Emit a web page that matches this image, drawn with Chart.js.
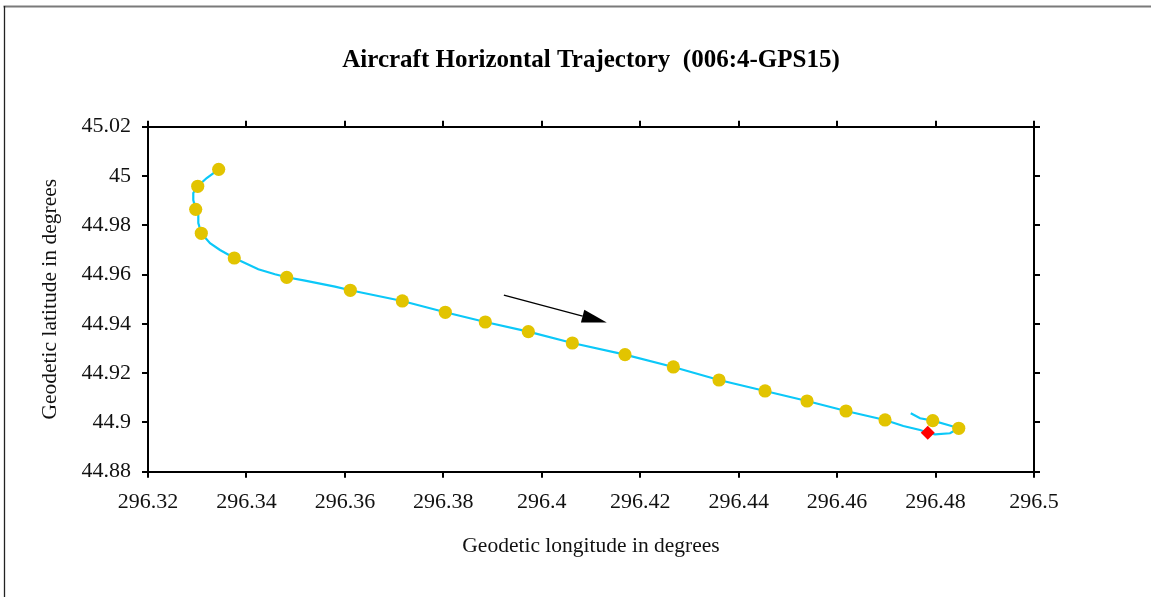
<!DOCTYPE html>
<html>
<head>
<meta charset="utf-8">
<script src="https://cdn.jsdelivr.net/npm/chart.js@4/dist/chart.umd.min.js"></script>
<style>
  html, body { margin: 0; padding: 0; background: #fff; }
  #wrap { width: 1151px; height: 597px; position: relative; }
</style>
</head>
<body>
<div id="wrap"><canvas id="c"></canvas></div>
<script>
// ---- data ----
const trackLon = [296.33436, 296.33193, 296.33010, 296.32920, 296.32920, 296.32969, 296.33022, 296.33022,
  296.33083, 296.33260, 296.33463, 296.33753, 296.34241, 296.34580, 296.34818, 296.35190, 296.35799,
  296.36110, 296.37167, 296.38040, 296.38853, 296.39727, 296.40621, 296.41691, 296.42673, 296.43601,
  296.44536, 296.45389, 296.46181, 296.46974, 296.47345, 296.47685, 296.47841, 296.47990, 296.48294,
  296.48471, 296.48254, 296.47943, 296.47685, 296.47496];
const trackLat = [45.00271, 44.99918, 44.99582, 44.99310, 44.99026, 44.98648, 44.98417, 44.98093,
  44.97675, 44.97269, 44.96997, 44.96672, 44.96214, 44.96011, 44.95889, 44.95751, 44.95508,
  44.95362, 44.94928, 44.94469, 44.94075, 44.93682, 44.93223, 44.92749, 44.92250, 44.91722,
  44.91276, 44.90870, 44.90464, 44.90099, 44.89856, 44.89693, 44.89584, 44.89519, 44.89559,
  44.89762, 44.89896, 44.90071, 44.90168, 44.90371];
const markerLon = [296.33436, 296.33010, 296.32969, 296.33083, 296.33753, 296.34818, 296.36110,
  296.37167, 296.38040, 296.38853, 296.39727, 296.40621, 296.41691, 296.42673, 296.43601,
  296.44536, 296.45389, 296.46181, 296.46974, 296.47943, 296.48471];
const markerLat = [45.00271, 44.99582, 44.98648, 44.97675, 44.96672, 44.95889, 44.95362,
  44.94928, 44.94469, 44.94075, 44.93682, 44.93223, 44.92749, 44.92250, 44.91722,
  44.91276, 44.90870, 44.90464, 44.90099, 44.90071, 44.89762];
const endLon = [296.47841];
const endLat = [44.89584];
const arrowLon = [296.3923, 296.4132];
const arrowLat = [44.9517, 44.9405];

const xTickValues = [296.32, 296.34, 296.36, 296.38, 296.4, 296.42, 296.44, 296.46, 296.48, 296.5];
const xTickLabels = ['296.32', '296.34', '296.36', '296.38', '296.4', '296.42', '296.44', '296.46', '296.48', '296.5'];
const yTickValues = [44.88, 44.9, 44.92, 44.94, 44.96, 44.98, 45, 45.02];
const yTickLabels = ['44.88', '44.9', '44.92', '44.94', '44.96', '44.98', '45', '45.02'];

const titleText = 'Aircraft Horizontal Trajectory  (006:4-GPS15)';
const xTitle = 'Geodetic longitude in degrees';
const yTitle = 'Geodetic latitude in degrees';

// ---- chart ----
const SERIF = "'Liberation Serif', 'Times New Roman', serif";
const tickFont = { family: SERIF, size: 22 };
const axisTitleFont = { family: SERIF, size: 21.5 };
const zip = (a, b) => a.map((v, i) => ({ x: v, y: b[i] }));

const framePlugin = {
  id: 'frame',
  beforeDraw(chart) {
    const ctx = chart.ctx;
    ctx.save();
    ctx.fillStyle = '#fff';
    ctx.fillRect(0, 0, chart.width, chart.height);
    ctx.strokeStyle = '#7a7a7a';
    ctx.lineWidth = 2;
    ctx.beginPath(); ctx.moveTo(3.5, 6.5); ctx.lineTo(chart.width, 6.5); ctx.stroke();
    ctx.strokeStyle = '#222';
    ctx.lineWidth = 1.3;
    ctx.beginPath(); ctx.moveTo(4.5, 6); ctx.lineTo(4.5, chart.height); ctx.stroke();
    ctx.restore();
  }
};

const arrowPlugin = {
  id: 'arrow',
  afterDatasetsDraw(chart) {
    const xs = chart.scales.x, ys = chart.scales.y, ctx = chart.ctx;
    const x0 = xs.getPixelForValue(arrowLon[0]), y0 = ys.getPixelForValue(arrowLat[0]);
    const x1 = xs.getPixelForValue(arrowLon[1]), y1 = ys.getPixelForValue(arrowLat[1]);
    const a = Math.atan2(y1 - y0, x1 - x0);
    const L = 25, W = 6.5;
    const bx = x1 - L * Math.cos(a), by = y1 - L * Math.sin(a);
    ctx.save();
    ctx.strokeStyle = '#000';
    ctx.lineWidth = 1.3;
    ctx.beginPath(); ctx.moveTo(x0, y0); ctx.lineTo(bx, by); ctx.stroke();
    ctx.fillStyle = '#000';
    ctx.beginPath();
    ctx.moveTo(x1, y1);
    ctx.lineTo(bx - W * Math.sin(a), by + W * Math.cos(a));
    ctx.lineTo(bx + W * Math.sin(a), by - W * Math.cos(a));
    ctx.closePath();
    ctx.fill();
    ctx.restore();
  }
};

function axis(position, values, labels, showLabels, size, titleCfg) {
  const horiz = position === 'top' || position === 'bottom';
  return {
    type: 'linear',
    position: position,
    min: values[0],
    max: values[values.length - 1],
    afterBuildTicks: s => { s.ticks = values.map(v => ({ value: v })); },
    ticks: {
      display: showLabels,
      callback: (v, i) => labels[i],
      font: tickFont,
      color: '#111',
      padding: horiz ? 11 : 11,
      autoSkip: false,
      maxRotation: 0,
      minRotation: 0
    },
    grid: { drawOnChartArea: false, drawTicks: true, tickLength: 6, color: '#000', lineWidth: 2 },
    border: { display: true, color: '#000', width: 2 },
    title: titleCfg || { display: false },
    afterFit: s => { if (horiz) s.height = size; else s.width = size; }
  };
}

const titlePadTop = 46, titlePadBottom = 10, titleSize = 25;

new Chart(document.getElementById('c'), {
  type: 'scatter',
  data: {
    datasets: [
      { label: 'end', data: zip(endLon, endLat), pointStyle: 'rectRot', pointRadius: 7,
        backgroundColor: '#ff0000', borderColor: '#ff0000', borderWidth: 0, order: 0 },
      { label: 'markers', data: zip(markerLon, markerLat), pointStyle: 'circle', pointRadius: 6.6,
        backgroundColor: '#e2c400', borderColor: '#e2c400', borderWidth: 0, order: 1 },
      { label: 'track', data: zip(trackLon, trackLat), showLine: true, pointRadius: 0,
        borderColor: '#0cc8f8', borderWidth: 2.2, tension: 0, order: 2 }
    ]
  },
  options: {
    responsive: true,
    maintainAspectRatio: false,
    animation: false,
    layout: { padding: 0 },
    plugins: {
      legend: { display: false },
      tooltip: { enabled: false },
      title: {
        display: true,
        fullSize: false,
        text: titleText,
        color: '#000',
        font: { family: SERIF, size: titleSize, weight: 'bold' },
        padding: { top: titlePadTop, bottom: titlePadBottom }
      }
    },
    scales: {
      x: axis('bottom', xTickValues, xTickLabels, true, 125.3,
        { display: true, text: xTitle, color: '#111', font: axisTitleFont, padding: { top: 0, bottom: 38 } }),
      x2: axis('top', xTickValues, xTickLabels, false, 126.7 - (titlePadTop + titleSize * 1.2 + titlePadBottom)),
      y: axis('left', yTickValues, yTickLabels, true, 148,
        { display: true, text: yTitle, color: '#111', font: axisTitleFont, padding: { top: 37, bottom: 0 } }),
      y2: axis('right', yTickValues, yTickLabels, false, 117)
    }
  },
  plugins: [framePlugin, arrowPlugin]
});
</script>
</body>
</html>
